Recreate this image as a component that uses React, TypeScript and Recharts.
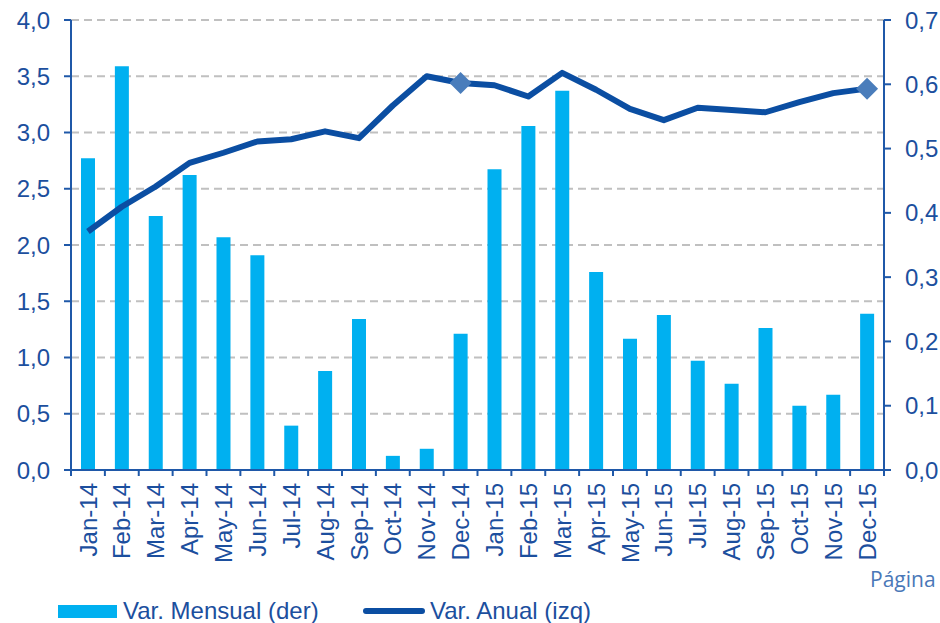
import { Bar, CartesianGrid, ComposedChart, Legend, Line, XAxis, YAxis } from "recharts";

const months = [
  "Jan-14", "Feb-14", "Mar-14", "Apr-14", "May-14", "Jun-14", "Jul-14", "Aug-14",
  "Sep-14", "Oct-14", "Nov-14", "Dec-14", "Jan-15", "Feb-15", "Mar-15", "Apr-15",
  "May-15", "Jun-15", "Jul-15", "Aug-15", "Sep-15", "Oct-15", "Nov-15", "Dec-15",
];

// Var. Mensual (right axis)
const mensual = [
  0.485, 0.628, 0.395, 0.459, 0.362, 0.334, 0.069, 0.154, 0.235, 0.022, 0.033, 0.212,
  0.468, 0.535, 0.59, 0.308, 0.204, 0.241, 0.17, 0.134, 0.221, 0.1, 0.117, 0.243,
];

// Var. Anual (left axis)
const anual = [
  2.12, 2.34, 2.52, 2.73, 2.82, 2.92, 2.94, 3.01, 2.95, 3.24, 3.5, 3.44,
  3.42, 3.32, 3.53, 3.38, 3.21, 3.11, 3.22, 3.2, 3.18, 3.27, 3.35, 3.39,
];

const leftTicks = [0, 0.5, 1, 1.5, 2, 2.5, 3, 3.5, 4];
const rightTicks = [0, 0.1, 0.2, 0.3, 0.4, 0.5, 0.6, 0.7];
const markedMonths = ["Dec-14", "Dec-15"];

const data = months.map((m, i) => ({ month: m, mensual: mensual[i], anual: anual[i] }));

const FONT = "'Liberation Sans', Arial, sans-serif";
const FS = 24;
const TEXT = "#1c4f9e";
const AXIS = "#1f58a8";
const BAR = "#00b0f0";
const LINE = "#0b4ea2";
const DIAMOND = "#4a7dbb";

const fmt = (v: number) => v.toFixed(1).replace(".", ",");

const XTick = (props: any) => {
  const { x, y, payload, index } = props;
  const half = payload.offset || 813 / 24 / 2;
  return (
    <g>
      <line x1={x - half} x2={x - half} y1={y} y2={y + 6} stroke={AXIS} strokeWidth={2} />
      {index === months.length - 1 && (
        <line x1={x + half} x2={x + half} y1={y} y2={y + 6} stroke={AXIS} strokeWidth={2} />
      )}
      <text
        transform={`translate(${x},${y + 13}) rotate(-90)`}
        textAnchor="end"
        dy="0.36em"
        fill={TEXT}
        fontSize={FS}
        fontFamily={FONT}
      >
        {payload.value}
      </text>
    </g>
  );
};

const Diamond = (props: any) => {
  const { cx, cy, payload } = props;
  if (!markedMonths.includes(payload.month)) return <g key={payload.month} />;
  const r = 11;
  return (
    <polygon
      key={payload.month}
      points={`${cx},${cy - r} ${cx + r},${cy} ${cx},${cy + r} ${cx - r},${cy}`}
      fill={DIAMOND}
    />
  );
};

const LegendContent = () => (
  <div style={{ position: "relative", height: 26, fontFamily: FONT, fontSize: FS, color: TEXT }}>
    <span style={{ position: "absolute", left: 58, top: 7, width: 59, height: 13, background: BAR }} />
    <span style={{ position: "absolute", left: 123, top: 0, lineHeight: "26px", whiteSpace: "nowrap" }}>
      Var. Mensual (der)
    </span>
    <span style={{ position: "absolute", left: 363, top: 10, width: 62, height: 6, borderRadius: 3, background: LINE }} />
    <span style={{ position: "absolute", left: 430, top: 0, lineHeight: "26px", whiteSpace: "nowrap" }}>
      Var. Anual (izq)
    </span>
  </div>
);

export default function App() {
  return (
    <div style={{ position: "absolute", left: 0, top: 0, width: 940, height: 623, overflow: "hidden", background: "#fff" }}>
      <ComposedChart width={940} height={623} data={data} margin={{ top: 20, right: 0, left: 0, bottom: 0 }}>
        <CartesianGrid yAxisId="left" vertical={false} stroke="#c0c0c0" strokeWidth={2} strokeDasharray="8 5" />
        <XAxis
          dataKey="month"
          height={153}
          interval={0}
          tickLine={false}
          tickSize={0}
          tickMargin={0}
          axisLine={{ stroke: AXIS, strokeWidth: 2 }}
          tick={<XTick />}
        />
        <YAxis
          yAxisId="left"
          orientation="left"
          width={71}
          domain={[0, 4]}
          ticks={leftTicks}
          tickFormatter={fmt}
          tickSize={7}
          tickMargin={14}
          axisLine={{ stroke: AXIS, strokeWidth: 2 }}
          tickLine={{ stroke: AXIS, strokeWidth: 2 }}
          tick={{ fill: TEXT, fontSize: FS, fontFamily: FONT }}
        />
        <YAxis
          yAxisId="right"
          orientation="right"
          width={56}
          domain={[0, 0.7]}
          ticks={rightTicks}
          tickFormatter={fmt}
          tickSize={7}
          tickMargin={14}
          axisLine={{ stroke: AXIS, strokeWidth: 2 }}
          tickLine={{ stroke: AXIS, strokeWidth: 2 }}
          tick={{ fill: TEXT, fontSize: FS, fontFamily: FONT, textAnchor: "start" }}
        />
        <Bar yAxisId="right" dataKey="mensual" fill={BAR} barSize={14} isAnimationActive={false} />
        <Line
          yAxisId="left"
          dataKey="anual"
          type="linear"
          stroke={LINE}
          strokeWidth={6}
          strokeLinejoin="round"
          dot={<Diamond />}
          activeDot={false}
          isAnimationActive={false}
        />
        <Legend
          layout="horizontal"
          verticalAlign="middle"
          align="center"
          wrapperStyle={{ top: 598, left: 0, width: 940 }}
          content={<LegendContent />}
        />
      </ComposedChart>
      <div
        style={{
          position: "absolute",
          left: 870,
          top: 569,
          lineHeight: 1,
          fontFamily: "'Open Sans', sans-serif",
          fontSize: 21,
          color: "#4a78b8",
          whiteSpace: "nowrap",
        }}
      >
        Página
      </div>
    </div>
  );
}
